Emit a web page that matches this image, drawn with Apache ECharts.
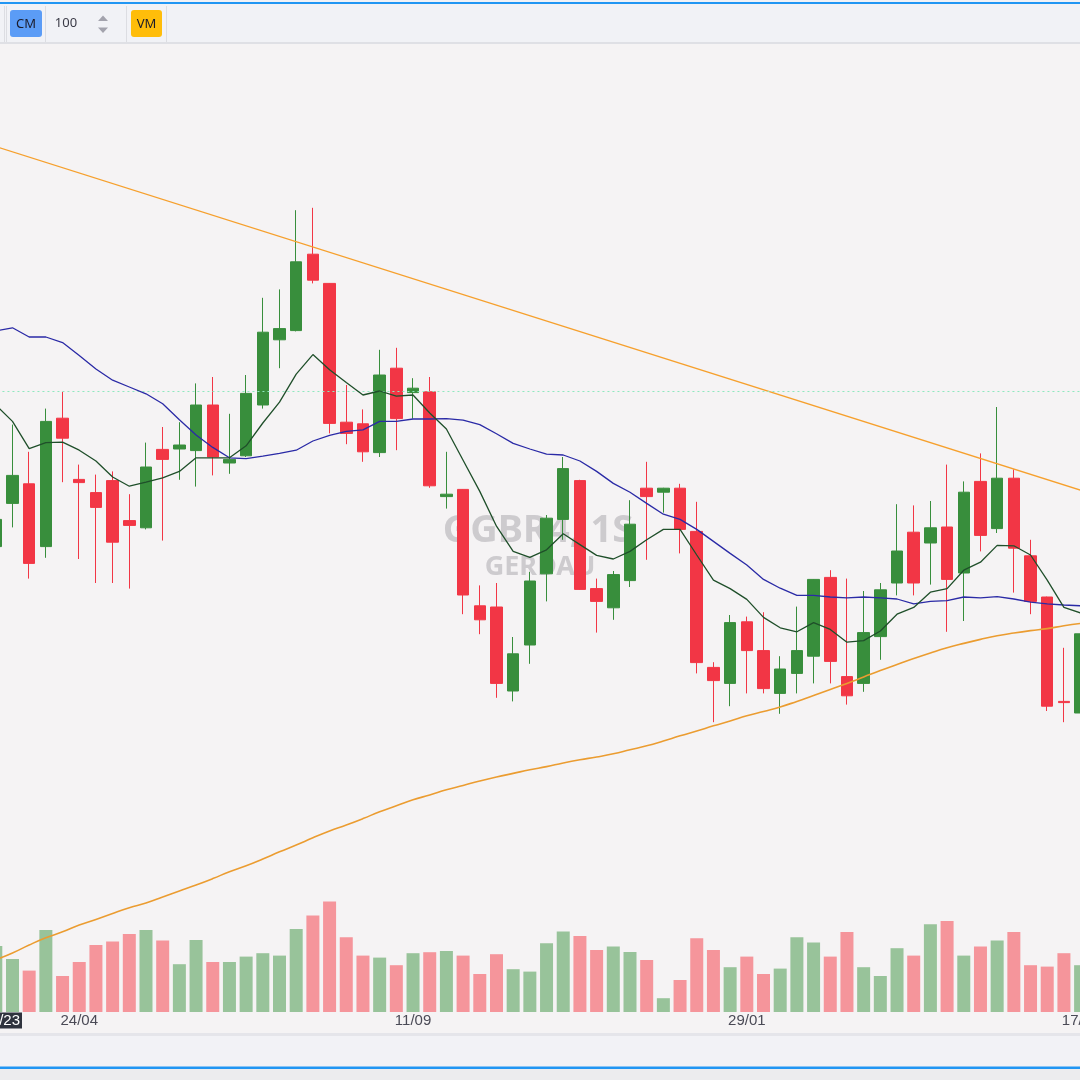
<!DOCTYPE html>
<html>
<head>
<meta charset="utf-8">
<script src="https://cdn.jsdelivr.net/npm/echarts@6/dist/echarts.min.js"></script>
<style>
html,body{margin:0;padding:0;background:#f5f3f4;}
#chart{width:1080px;height:1080px;}
</style>
</head>
<body>
<div id="chart"></div>
<script>
// ---- DATA (weekly, GGBR4) ----
const categories = [
 '20/03/23','27/03/23','03/04/23','10/04/23','17/04/23','24/04/23','01/05/23','08/05/23','15/05/23','22/05/23',
 '29/05/23','05/06/23','12/06/23','19/06/23','26/06/23','03/07/23','10/07/23','17/07/23','24/07/23','31/07/23',
 '07/08/23','14/08/23','21/08/23','28/08/23','04/09/23','11/09/23','18/09/23','25/09/23','02/10/23','09/10/23',
 '16/10/23','23/10/23','30/10/23','06/11/23','13/11/23','20/11/23','27/11/23','04/12/23','11/12/23','18/12/23',
 '25/12/23','01/01/24','08/01/24','15/01/24','22/01/24','29/01/24','05/02/24','12/02/24','19/02/24','26/02/24',
 '04/03/24','11/03/24','18/03/24','25/03/24','01/04/24','08/04/24','15/04/24','22/04/24','29/04/24','06/05/24',
 '13/05/24','20/05/24','27/05/24','03/06/24','10/06/24','17/06/24'
];
const tickLabels = ['24/04','11/09','29/01','17/06'];
const pointerLabel = '20/03/23';

// [open, close, low, high]
const candles = [
 [21.46,22.14,21.33,22.33],[22.54,23.24,21.94,24.51],[23.03,21.04,20.66,23.83],[21.46,24.59,21.18,24.91],
 [24.67,24.17,23.07,25.33],[23.14,23.06,21.15,23.51],[22.81,22.44,20.55,23.26],[23.11,21.57,20.55,23.34],
 [22.11,21.99,20.41,22.77],[21.93,23.45,21.89,24.06],[23.89,23.64,21.61,24.45],[23.90,24.00,23.13,24.57],
 [23.86,25.00,22.96,25.54],[25.00,23.70,23.24,25.70],[23.55,23.64,23.28,24.78],[23.73,25.29,23.70,25.75],
 [25.00,26.82,24.91,27.68],[26.63,26.91,25.92,27.89],[26.86,28.58,26.84,29.87],[28.77,28.12,28.04,29.93],
 [28.04,24.54,24.29,28.05],[24.57,24.29,24.02,25.50],[24.53,23.83,23.58,24.89],[23.81,25.75,23.70,26.38],
 [25.92,24.66,23.87,26.43],[25.31,25.42,24.66,25.67],[25.33,22.98,22.93,25.70],[22.71,22.77,22.41,23.83],
 [22.89,20.25,19.77,22.90],[19.98,19.63,19.27,20.49],[19.95,18.04,17.68,20.55],[17.85,18.78,17.59,19.20],
 [19.00,20.60,18.53,20.83],[20.78,22.17,20.09,22.25],[22.14,23.41,21.63,23.70],[23.11,20.39,20.38,23.13],
 [20.41,20.09,19.31,20.66],[19.93,20.76,19.63,20.85],[20.61,22.02,20.45,22.62],[22.92,22.71,21.13,23.58],
 [22.82,22.92,22.31,22.93],[22.92,21.89,21.29,23.03],[21.84,18.56,18.29,22.58],[18.44,18.11,17.07,18.57],
 [18.04,19.56,17.47,19.75],[19.58,18.86,17.79,19.71],[18.86,17.91,17.79,19.82],[17.79,18.40,17.28,18.72],
 [18.29,18.86,17.79,19.96],[18.72,20.64,18.04,20.65],[20.69,18.59,18.04,20.87],[18.21,17.73,17.51,20.66],
 [18.04,19.31,17.83,20.35],[19.21,20.38,18.63,20.55],[20.55,21.35,20.24,22.52],[21.82,20.55,20.24,22.49],
 [21.55,21.93,20.51,22.60],[21.95,20.64,19.33,23.51],[20.80,22.82,19.60,23.09],[23.09,21.74,21.34,23.79],
 [21.91,23.17,21.80,24.95],[23.17,21.42,20.31,23.39],[21.23,20.09,19.77,21.63],[20.20,17.47,17.35,20.21],
 [17.59,17.56,17.07,18.93],[17.30,19.28,17.18,19.50]
];

// weekly volume (millions)
const volumes = [33,26.5,20.7,41,18,25,33.5,35.2,39,41,35.7,23.9,36,25,25,27.7,29.4,28.2,41.5,48.2,
 55.2,37.4,28.2,27.2,23.4,29.4,29.9,30.5,28.2,19,28.9,21.4,20.2,34.4,40.2,38,31,32.7,30,26,
 6.9,16,36.9,31,22.4,27.7,19,21.7,37.4,34.7,27.7,40,22.4,18,31.9,28.2,43.9,45.5,28.2,32.7,
 35.7,40,23.4,22.7,29.4,23.4];

const maShort = [25.00,24.59,23.91,24.06,24.07,23.87,23.60,23.20,22.97,23.07,23.18,23.34,23.68,23.68,23.68,23.98,
 24.55,25.07,25.77,26.26,25.88,25.56,25.25,25.35,25.22,25.25,24.80,24.40,23.62,22.84,21.97,21.34,21.19,21.38,
 21.78,21.51,21.24,21.15,21.34,21.63,21.89,21.89,21.25,20.62,20.41,20.14,19.69,19.43,19.33,19.56,19.39,19.07,
 19.11,19.35,19.77,19.94,20.32,20.41,20.87,21.07,21.49,21.48,21.25,20.62,19.94,19.80];

const maMid = [26.85,26.93,26.70,26.70,26.56,26.24,25.90,25.62,25.45,25.28,25.03,24.63,24.25,23.94,23.68,23.66,
 23.72,23.79,23.87,24.10,24.24,24.34,24.38,24.59,24.59,24.65,24.65,24.66,24.62,24.51,24.28,24.04,23.90,23.77,
 23.75,23.60,23.34,23.04,22.82,22.54,22.27,22.14,21.89,21.59,21.29,21.00,20.64,20.42,20.24,20.24,20.20,20.18,
 20.20,20.18,20.15,20.03,20.09,20.11,20.20,20.18,20.21,20.15,20.07,20.03,20.00,19.98];

const maLong = [11.13,11.30,11.50,11.68,11.83,12.00,12.14,12.29,12.43,12.55,12.70,12.85,13.00,13.16,13.33,13.48,
 13.65,13.83,14.00,14.18,14.35,14.50,14.66,14.83,14.98,15.13,15.25,15.38,15.49,15.60,15.70,15.79,15.88,15.96,
 16.05,16.13,16.20,16.28,16.38,16.48,16.60,16.73,16.85,16.98,17.10,17.23,17.34,17.45,17.59,17.74,17.89,18.04,
 18.20,18.36,18.51,18.66,18.80,18.93,19.04,19.14,19.23,19.30,19.36,19.41,19.48,19.54];

const trendStart = 31.46;  // trendline value at first week
const trendEnd = 22.87;    // trendline value at last week
const lastPrice = 25.35;

// ---- build ----
const UP = '#388e3c', DOWN = '#f23645';
const volUp = '#98c39a', volDown = '#f5959b';
const n = categories.length;
const trendData = categories.map((c, i) => i === 0 ? trendStart : (i === n - 1 ? trendEnd : null));
const volData = volumes.map((v, i) => ({
  value: v,
  itemStyle: { color: candles[i][1] >= candles[i][0] ? volUp : volDown }
}));

const GRID_LEFT = -12.55, GRID_WIDTH = 1101.5;

const chart = echarts.init(document.getElementById('chart'), null, { renderer: 'canvas' });
const FONT = '"Noto Sans", "Open Sans", sans-serif';

chart.setOption({
  animation: false,
  backgroundColor: '#f5f3f4',
  grid: [
    { left: GRID_LEFT, width: GRID_WIDTH, top: 45, height: 960, containLabel: false, outerBoundsMode: 'none' },
    { left: GRID_LEFT, width: GRID_WIDTH, top: 812, height: 200, containLabel: false, outerBoundsMode: 'none' }
  ],
  xAxis: [
    { type: 'category', gridIndex: 0, data: categories, boundaryGap: true,
      axisLine: { show: false }, axisTick: { show: false }, axisLabel: { show: false }, splitLine: { show: false } },
    { type: 'category', gridIndex: 1, data: categories, boundaryGap: true,
      axisLine: { show: false }, axisTick: { show: false }, splitLine: { show: false },
      axisLabel: {
        show: true, color: '#4a4a56', fontSize: 15, fontFamily: '"Liberation Sans", Arial, sans-serif', margin: 1,
        interval: (idx, val) => tickLabels.indexOf(val.slice(0, 5)) >= 0,
        formatter: (val) => val.slice(0, 5)
      } }
  ],
  yAxis: [
    { type: 'value', gridIndex: 0, min: 10, max: 34, show: false, splitLine: { show: false } },
    { type: 'value', gridIndex: 1, min: 0, max: 100, show: false, splitLine: { show: false } }
  ],
  series: [
    { type: 'bar', name: 'Volume', xAxisIndex: 1, yAxisIndex: 1, data: volData, barWidth: 13, z: 1, silent: true },
    { type: 'candlestick', name: 'GGBR4', xAxisIndex: 0, yAxisIndex: 0, data: candles, barWidth: 12, z: 3,
      itemStyle: { color: UP, color0: DOWN, borderColor: UP, borderColor0: DOWN, borderWidth: 1 },
      markLine: { silent: true, symbol: 'none', label: { show: false },
        lineStyle: { color: '#8fe8bf', type: [2, 3], width: 1 },
        data: [{ yAxis: lastPrice }] } },
    { type: 'line', name: 'MA long', data: maLong, symbol: 'none', smooth: true, z: 4,
      lineStyle: { color: '#eb9c30', width: 1.6 } },
    { type: 'line', name: 'MA mid', data: maMid, symbol: 'none', z: 5,
      lineStyle: { color: '#2a2aa6', width: 1.3 } },
    { type: 'line', name: 'MA short', data: maShort, symbol: 'none', z: 6,
      lineStyle: { color: '#1f4f2a', width: 1.3 } },
    { type: 'line', name: 'Trend', data: trendData, connectNulls: true, symbol: 'none', z: 4,
      lineStyle: { color: '#f6a02d', width: 1.3 } }
  ],
  graphic: [
    // watermark
    { type: 'text', x: 538, y: 531, z: 0, silent: true,
      style: { text: 'GGBR4, 1S', fill: 'rgba(120,118,128,0.32)', font: 'bold 38px ' + FONT,
        align: 'center', verticalAlign: 'middle', textAlign: 'center', textVerticalAlign: 'middle' } },
    { type: 'text', x: 540, y: 567, z: 0, silent: true,
      style: { text: 'GERDAU', fill: 'rgba(120,118,128,0.32)', font: 'bold 27px ' + FONT,
        align: 'center', verticalAlign: 'middle', textAlign: 'center', textVerticalAlign: 'middle' } },
    // top toolbar
    { type: 'rect', z: 100, shape: { x: 0, y: 0, width: 1080, height: 43 }, style: { fill: '#f1f2f6' } },
    { type: 'rect', z: 101, shape: { x: 0, y: 2, width: 1080, height: 2 }, style: { fill: '#2196f3' } },
    { type: 'rect', z: 101, shape: { x: 0, y: 42, width: 1080, height: 2 }, style: { fill: '#dfe0e5' } },
    { type: 'rect', z: 101, shape: { x: 4, y: 6, width: 1, height: 36 }, style: { fill: '#dcdde2' } },
    { type: 'rect', z: 101, shape: { x: 6, y: 6, width: 1, height: 36 }, style: { fill: '#dcdde2' } },
    { type: 'rect', z: 101, shape: { x: 45, y: 6, width: 1, height: 36 }, style: { fill: '#dcdde2' } },
    { type: 'rect', z: 101, shape: { x: 126, y: 6, width: 1, height: 36 }, style: { fill: '#dcdde2' } },
    { type: 'rect', z: 101, shape: { x: 166, y: 6, width: 1, height: 36 }, style: { fill: '#dcdde2' } },
    { type: 'rect', z: 101, shape: { x: 10, y: 10, width: 32, height: 27, r: 3 }, style: { fill: '#5b9cf6' } },
    { type: 'text', z: 102, x: 26, y: 24, style: { text: 'CM', fill: '#1b1b2a', font: '13px ' + FONT,
        align: 'center', verticalAlign: 'middle', textAlign: 'center', textVerticalAlign: 'middle' } },
    { type: 'text', z: 102, x: 66, y: 23.5, style: { text: '100', fill: '#3a3a46', font: '13px ' + FONT,
        align: 'center', verticalAlign: 'middle', textAlign: 'center', textVerticalAlign: 'middle' } },
    { type: 'polygon', z: 102, shape: { points: [[98, 21], [103, 15.5], [108, 21]] }, style: { fill: '#a3a3ad' } },
    { type: 'polygon', z: 102, shape: { points: [[98, 27.5], [103, 33], [108, 27.5]] }, style: { fill: '#a3a3ad' } },
    { type: 'rect', z: 101, shape: { x: 131, y: 10, width: 31, height: 27, r: 3 }, style: { fill: '#ffbd0a' } },
    { type: 'text', z: 102, x: 146.5, y: 24, style: { text: 'VM', fill: '#1b1b2a', font: '13px ' + FONT,
        align: 'center', verticalAlign: 'middle', textAlign: 'center', textVerticalAlign: 'middle' } },
    // axis pointer label (date)
    { type: 'rect', z: 90, shape: { x: -60, y: 1012.5, width: 82, height: 16 }, style: { fill: '#2f333e' } },
    { type: 'text', z: 91, x: 20, y: 1020.5, style: { text: pointerLabel, fill: '#ffffff',
        font: '15px "Liberation Sans", Arial, sans-serif',
        align: 'right', verticalAlign: 'middle', textAlign: 'right', textVerticalAlign: 'middle' } },
    // bottom bar
    { type: 'rect', z: 100, shape: { x: 0, y: 1033, width: 1080, height: 3 }, style: { fill: '#e5e5ea' } },
    { type: 'rect', z: 100, shape: { x: 0, y: 1036, width: 1080, height: 31 }, style: { fill: '#f2f2f6' } },
    { type: 'rect', z: 100, shape: { x: 0, y: 1066.5, width: 1080, height: 2.5 }, style: { fill: '#2196f3' } },
    { type: 'rect', z: 100, shape: { x: 0, y: 1069, width: 1080, height: 11 }, style: { fill: '#ececee' } }
  ]
});
</script>
</body>
</html>
